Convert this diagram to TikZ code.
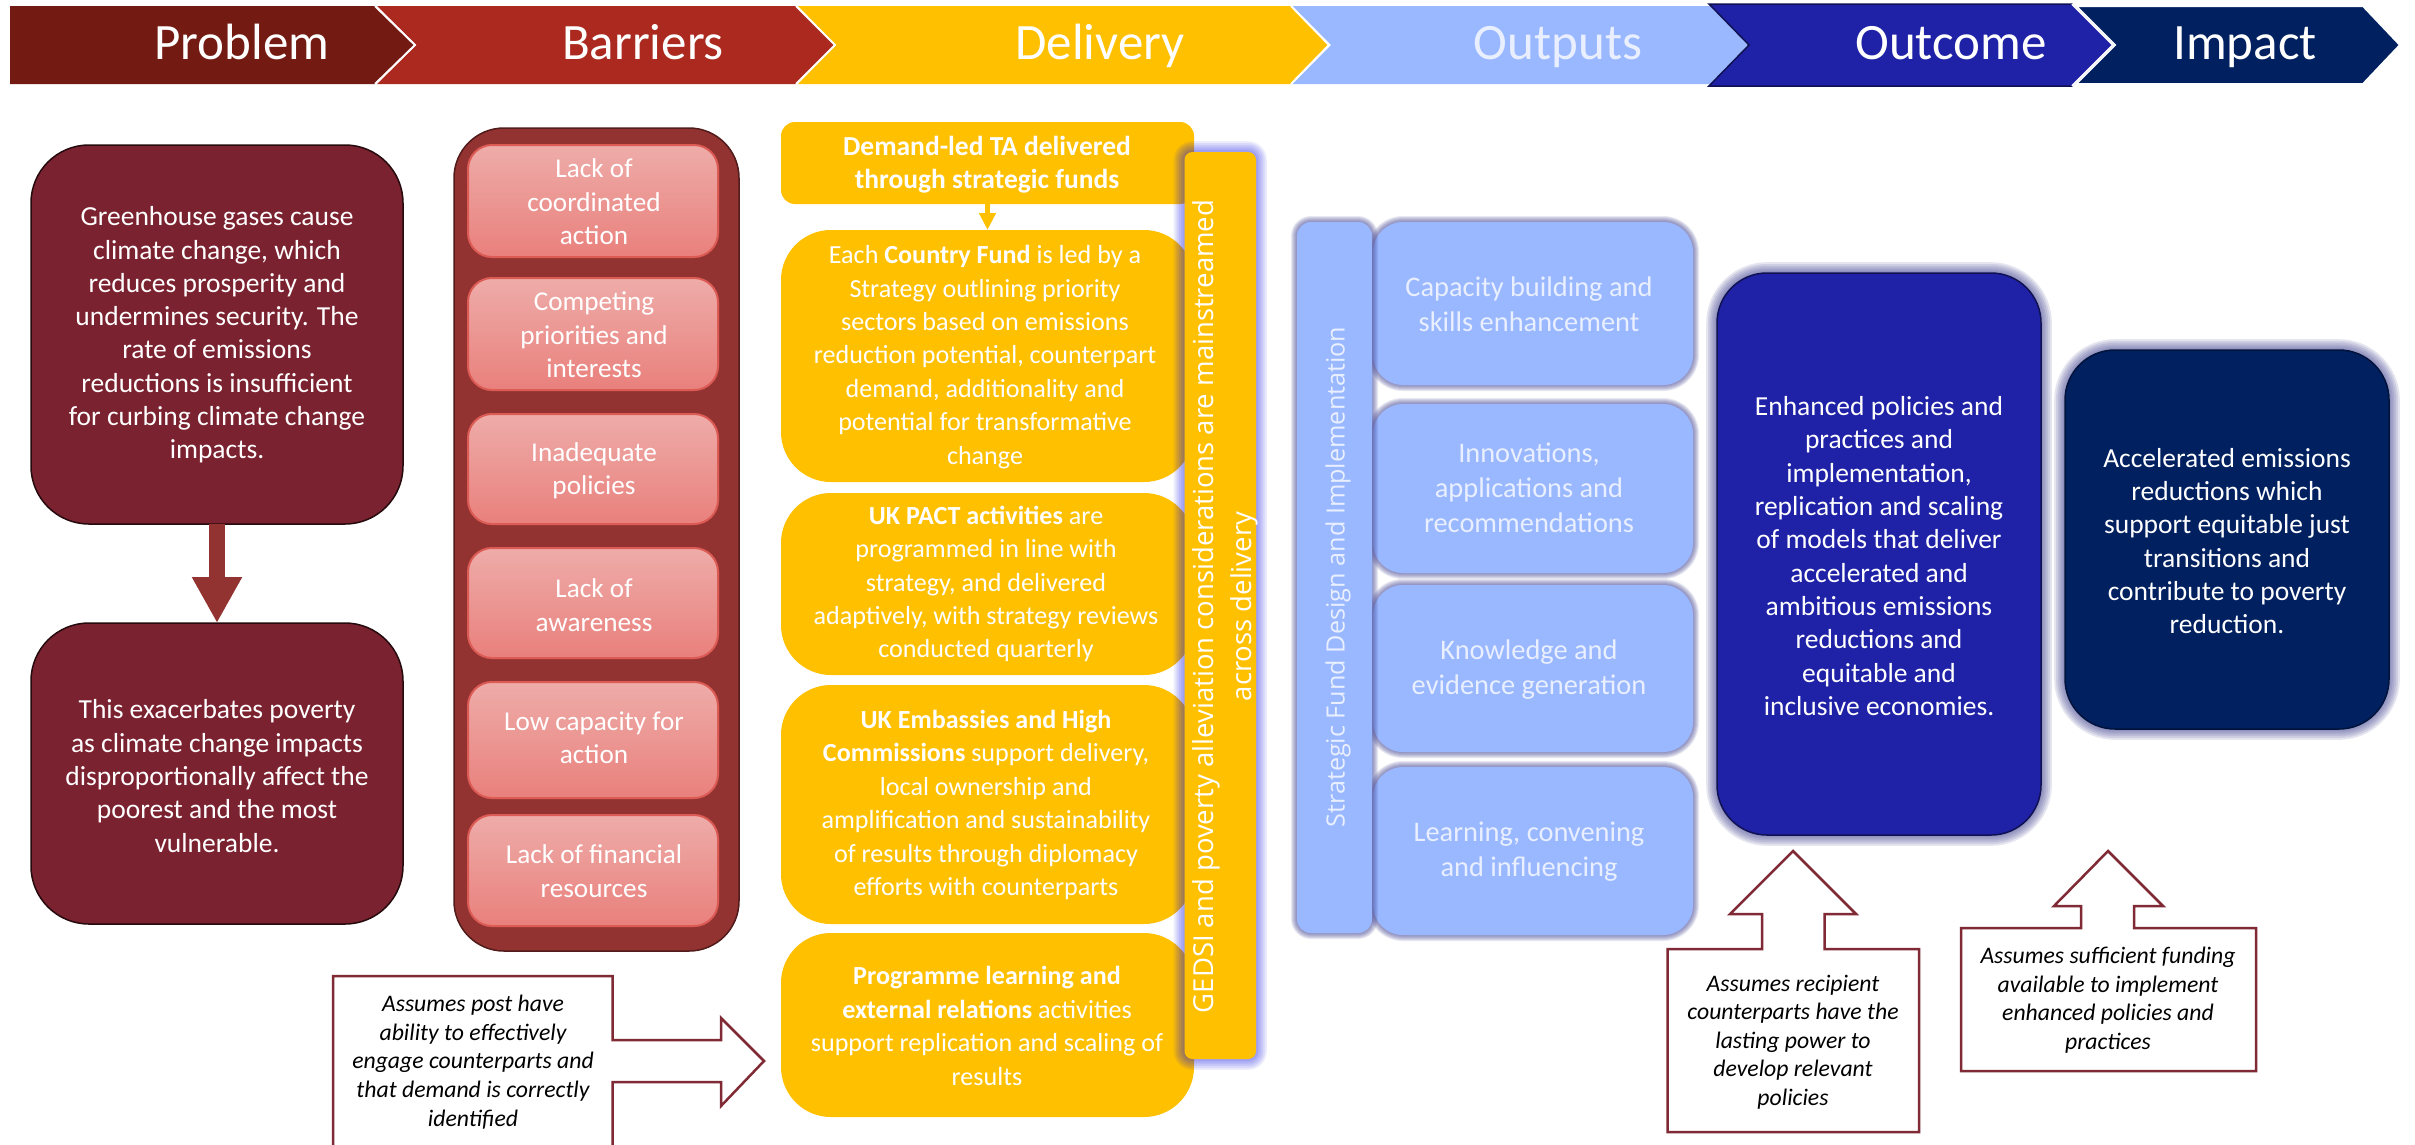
\documentclass[tikz,border=0pt]{standalone}
\usepackage{fontspec}
\setmainfont{Carlito}
\newfontfamily\gedsifont{Open Sans}
\usetikzlibrary{arrows.meta}
\definecolor{cProbH}{HTML}{731B13}
\definecolor{cBarH}{HTML}{AB291E}
\definecolor{cDel}{HTML}{FFC000}
\definecolor{cOut}{HTML}{99B8FF}
\definecolor{cOutc}{HTML}{1F22A6}
\definecolor{cImp}{HTML}{002060}
\definecolor{cProb}{HTML}{7B2230}
\definecolor{cBarOuter}{HTML}{933331}
\definecolor{cAssume}{HTML}{7F2A35}
\definecolor{cOutText}{HTML}{E9EFFF}
\definecolor{cBarA}{HTML}{EEACA9}
\definecolor{cBarB}{HTML}{E9807C}
\definecolor{cBarE}{HTML}{DC5B55}
\definecolor{cGlowB}{HTML}{0D0DE6}
\definecolor{cGlowG}{HTML}{4A4B96}
\tikzset{
  boxbase/.style={inner sep=0pt,outer sep=0pt},
  txt/.style={inner sep=0pt,outer sep=0pt,align=center,text=white,font=\fontsize{26.1}{33.4}\selectfont},
  txtlg/.style={txt,font=\fontsize{27.5}{33.3}\selectfont},
  txtbar/.style={txt,font=\fontsize{27.2}{33.4}\selectfont},
  txtout/.style={txt,text=cOutText,font=\fontsize{28.4}{35}\selectfont},
  txtcall/.style={inner sep=0pt,outer sep=0pt,align=center,text=black,font=\fontsize{23.7}{28.6}\selectfont\itshape},
  head/.style={inner sep=0pt,outer sep=0pt,anchor=base,text=white,font=\fontsize{51}{60}\selectfont},
  probbox/.style={boxbase,fill=cProb,draw=black!70!cProb,line width=1.5pt,rounded corners=58pt},
  baroutbox/.style={boxbase,fill=cBarOuter,draw=black!45!cBarOuter,line width=1.5pt,rounded corners=50pt},
  barbox/.style={boxbase,top color=cBarA,bottom color=cBarB,draw=cBarE,line width=2pt,rounded corners=24pt},
  delbox/.style={boxbase,fill=cDel,rounded corners=50pt},
  deltop/.style={boxbase,fill=cDel,rounded corners=14pt},
  outbox/.style={boxbase,fill=cOut,rounded corners=30pt},
  outcbox/.style={boxbase,fill=cOutc,draw=black!50!cOutc,line width=1.5pt,rounded corners=50pt},
  impbox/.style={boxbase,fill=cImp,draw=black!40!cImp,line width=1.5pt,rounded corners=50pt},
  callout/.style={fill=white,draw=cAssume,line width=2.5pt,miter limit=10},
  blockarrow/.style={cBarOuter,line width=16pt,-{Triangle[width=47pt,length=46pt]}},
  smallarrow/.style={cDel,line width=5pt,-{Triangle[width=16pt,length=17pt]}},
}
% name, x1, y1, x2, y2, style
\newcommand{\rbox}[6]{%
  \pgfmathsetmacro{\mycx}{(#2+#4)/2}\pgfmathsetmacro{\mycy}{(#3+#5)/2}%
  \pgfmathsetmacro{\mybw}{#4-#2}\pgfmathsetmacro{\mybh}{#5-#3}%
  \node[#6,minimum width=\mybw pt,minimum height=\mybh pt] (#1) at (\mycx,\mycy) {};%
}
% x1, y1, x2, y2, radius, colour, opacity, step
\newcommand{\glow}[8]{%
  \foreach \myk in {1,...,6}{%
    \pgfmathsetmacro{\myr}{#5+\myk*#8}%
    \pgfmathsetmacro{\myd}{\myk*#8}%
    \fill[#6,opacity=#7,rounded corners=\myr pt] (#1-\myd,#2-\myd) rectangle (#3+\myd,#4+\myd);
  }%
}
\begin{document}
\begin{tikzpicture}[x=1pt,y=-1pt]
\useasboundingbox (0,0) rectangle (2415,1144);
\clip (0,0) rectangle (2415,1144);
\fill[white] (0,0) rectangle (2415,1144);

% header chevrons
\fill[cImp,draw=white,line width=2pt] (2076,6) -- (2363,6) -- (2400,45) -- (2363,84) -- (2076,84) -- (2115,45) -- cycle;
\fill[cOut] (1292,6) -- (1712,6) -- (1752,45) -- (1712,84) -- (1292,84) -- (1331,45) -- cycle;
\fill[cDel] (798,6) -- (1291,6) -- (1329,45) -- (1291,84) -- (798,84) -- (836,45) -- cycle;
\fill[cBarH] (377,6) -- (796,6) -- (835,45) -- (796,84) -- (377,84) -- (416,45) -- cycle;
\fill[cProbH] (10,6) -- (375,6) -- (415,45) -- (375,84) -- (10,84) -- cycle;
\draw[white,line width=2pt] (1291,6) -- (1329,45) -- (1291,84);
\draw[white,line width=2pt] (796,6) -- (835,45) -- (796,84);
\draw[white,line width=2pt] (375,6) -- (415,45) -- (375,84);
\fill[cOutc,draw=black!50!cOutc,line width=1.5pt] (1709,4) -- (2072,4) -- (2113,45) -- (2072,86) -- (1709,86) -- (1749,45) -- cycle;
\draw[white,line width=2pt] (2072,4) -- (2113,45) -- (2072,86);
\node[head] (hProblem) at (242,59) {Problem};
\node[head] (hBarriers) at (643,59) {Barriers};
\node[head] (hDelivery) at (1100,59) {Delivery};
\node[head,text=cOutText] (hOutputs) at (1558,59) {Outputs};
\node[head] (hOutcome) at (1951,59) {Outcome};
\node[head] (hImpact) at (2245,59) {Impact};

% problem
\rbox{p1}{31}{145}{403}{524}{probbox}
\rbox{p2}{31}{623}{403}{924}{probbox}
\draw[blockarrow] (p1.south) -- (p2.north);
\node[txtlg] (tp1) at (217,335) {Greenhouse gases cause\\climate change, which\\reduces prosperity and\\undermines security. The\\rate of emissions\\reductions is insufficient\\for curbing climate change\\impacts.};
\node[txtlg] (tp2) at (217,776) {This exacerbates poverty\\as climate change impacts\\disproportionally affect the\\poorest and the most\\vulnerable.};

% barriers
\rbox{bo}{454}{128}{739}{951}{baroutbox}
\rbox{b1}{468}{145}{718}{257}{barbox}
\rbox{b2}{468}{278}{718}{390}{barbox}
\rbox{b3}{468}{414}{718}{524}{barbox}
\rbox{b4}{468}{548}{718}{658}{barbox}
\rbox{b5}{468}{682}{718}{798}{barbox}
\rbox{b6}{468}{815}{718}{926}{barbox}
\node[txtbar] (tb1) at (594,202) {Lack of\\coordinated\\action};
\node[txtbar] (tb2) at (594,335) {Competing\\priorities and\\interests};
\node[txtbar] (tb3) at (594,471) {Inadequate\\policies};
\node[txtbar] (tb4) at (594,605) {Lack of\\awareness};
\node[txtbar] (tb5) at (594,738) {Low capacity for\\action};
\node[txtbar] (tb6) at (594,871) {Lack of financial\\resources};

% delivery
\rbox{d1}{781}{122}{1194}{204}{deltop}
\rbox{d2}{781}{230}{1194}{482}{delbox}
\rbox{d3}{781}{493}{1194}{675}{delbox}
\rbox{d4}{781}{685}{1194}{924}{delbox}
\rbox{d5}{781}{933}{1194}{1117}{delbox}
\draw[smallarrow] (d1.south) -- (d2.north);
\glow{1184.5}{152}{1256}{1059}{8}{cGlowB}{0.08}{1.8}
\rbox{ge}{1184.5}{152}{1256}{1059}{boxbase,fill=cDel,rounded corners=8pt}
\node[txtlg] (td1) at (987,165) {\textbf{Demand-led TA delivered}\\\textbf{through strategic funds}};
\node[txt] (td2) at (985,357) {Each \textbf{Country Fund} is led by a\\Strategy outlining priority\\sectors based on emissions\\reduction potential, counterpart\\demand,  additionality and\\potential for transformative\\change};
\node[txt] (td3) at (986,584) {\textbf{UK PACT activities} are\\programmed in line with\\strategy, and delivered\\adaptively, with strategy reviews\\conducted quarterly};
\node[txt] (td4) at (986,805) {\textbf{UK Embassies and High}\\\textbf{Commissions} support delivery,\\local ownership and\\amplification and sustainability\\of results through diplomacy\\efforts with counterparts};
\node[txt] (td5) at (987,1026) {\textbf{Programme learning and}\\\textbf{external relations} activities\\support replication and scaling of\\results};
\node[txt,rotate=90,font=\gedsifont\fontsize{27.5}{38}\selectfont] (tge) at (1225,606.5) {GEDSI and poverty alleviation considerations are mainstreamed\\across delivery};

% outputs
\glow{1373}{222}{1693}{385}{30}{cGlowG}{0.13}{1}
\glow{1373}{404}{1693}{573}{30}{cGlowG}{0.13}{1}
\glow{1373}{585}{1693}{752}{30}{cGlowG}{0.13}{1}
\glow{1373}{767}{1693}{935}{30}{cGlowG}{0.13}{1}
\rbox{o1}{1373}{222}{1693}{385}{outbox}
\rbox{o2}{1373}{404}{1693}{573}{outbox}
\rbox{o3}{1373}{585}{1693}{752}{outbox}
\rbox{o4}{1373}{767}{1693}{935}{outbox}
\glow{1297}{222}{1372}{933}{14}{cGlowG}{0.13}{1}
\rbox{o0}{1297}{222}{1372}{933}{boxbase,fill=cOut,rounded corners=14pt}
\node[txt,text=cOutText,rotate=90,font=\gedsifont\fontsize{25.2}{32}\selectfont] (to0) at (1338,577) {Strategic Fund Design and Implementation};
\node[txtout] (to1) at (1529,304) {Capacity building and\\skills enhancement};
\node[txtout] (to2) at (1529,488) {Innovations,\\applications and\\recommendations};
\node[txtout] (to3) at (1529,670) {Knowledge and\\evidence generation};
\node[txtout] (to4) at (1529,852) {Learning, convening\\and influencing};

% outcome and impact
\glow{1717}{273}{2041}{835}{50}{cGlowG}{0.14}{1.8}
\rbox{oc}{1717}{273}{2041}{835}{outcbox}
\node[txtlg] (toc) at (1879,556) {Enhanced policies and\\practices and\\implementation,\\replication and scaling\\of models that deliver\\accelerated and\\ambitious emissions\\reductions and\\equitable and\\inclusive economies.};
\glow{2065}{350}{2389}{729}{50}{cGlowG}{0.14}{1.8}
\rbox{im}{2065}{350}{2389}{729}{impbox}
\node[txtlg] (tim) at (2227,541) {Accelerated emissions\\reductions which\\support equitable just\\transitions and\\contribute to poverty\\reduction.};

% assumption callouts
\draw[callout] (333,976) -- (612.5,976) -- (612.5,1040) -- (721,1040) -- (721,1018) -- (764,1061) -- (721,1106) -- (721,1082) -- (612.5,1082) -- (612.5,1160) -- (333,1160) -- cycle;
\node[txtcall] (ta1) at (473,1062) {Assumes post have\\ability to effectively\\engage counterparts and\\that demand is correctly\\identified};
\draw[callout] (1667.5,949) -- (1762,949) -- (1762,914) -- (1730,914) -- (1793,851) -- (1856,914) -- (1824.5,914) -- (1824.5,949) -- (1919,949) -- (1919,1132) -- (1667.5,1132) -- cycle;
\node[txtcall] (ta2) at (1793,1042) {Assumes recipient\\counterparts have the\\lasting power to\\develop relevant\\policies};
\draw[callout] (1961,928) -- (2081,928) -- (2081,906) -- (2054,906) -- (2108,851) -- (2163,906) -- (2134,906) -- (2134,928) -- (2256,928) -- (2256,1071) -- (1961,1071) -- cycle;
\node[txtcall] (ta3) at (2108,1000) {Assumes sufficient funding\\available to implement\\enhanced policies and\\practices};
\end{tikzpicture}
\end{document}
